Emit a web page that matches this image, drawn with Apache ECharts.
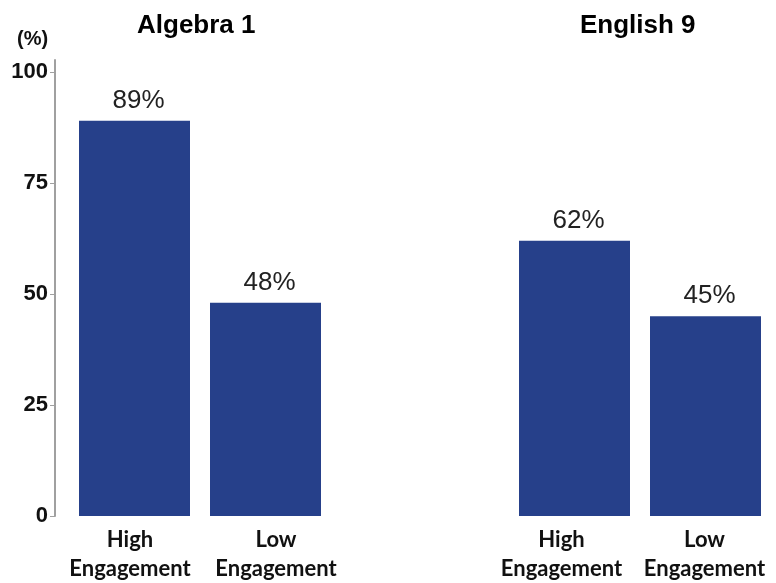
<!DOCTYPE html>
<html><head><meta charset="utf-8">
<script src="https://cdn.jsdelivr.net/npm/echarts@6/dist/echarts.min.js"></script>
<style>html,body{margin:0;padding:0;background:#fff}#c{width:776px;height:583px}</style>
</head><body><div id="c"></div>
<script>
const panels = ['Algebra 1', 'English 9'];
const categories = ['High\nEngagement', 'Low\nEngagement'];
const algebraValues = [89, 48];
const englishValues = [62, 45];
const yTicks = [0, 25, 50, 75, 100];
const yUnit = '(%)';

const BAR = '#26408a';
const AXIS = '#a0a0a0';
const gridTop = 60, gridBottom = 67;
const yMax = 102.7;

function hiddenX(gi) {
  return { type: 'category', gridIndex: gi, data: categories, show: false };
}
function labelX(gi) {
  return {
    type: 'category', gridIndex: gi, data: categories,
    axisLine: { show: false }, axisTick: { show: false },
    axisLabel: { margin: 11, color: '#111', fontFamily: 'Lato', fontWeight: 'bold', fontSize: 22, lineHeight: 29, interval: 0 }
  };
}
function hiddenY(gi) {
  return { type: 'value', gridIndex: gi, min: 0, max: yMax, show: false, splitLine: { show: false } };
}
function barSeries(xi, data) {
  return {
    type: 'bar', xAxisIndex: xi, yAxisIndex: xi, data: data, barWidth: 111,
    itemStyle: { color: BAR },
    label: { show: true, position: 'top', distance: 7, offset: [4, 0], formatter: '{c}%',
      color: '#222', fontFamily: 'Liberation Sans', fontSize: 26 }
  };
}

const chart = echarts.init(document.getElementById('c'), null, { renderer: 'canvas' });
const titleStyle = { fontFamily: 'Liberation Sans', fontWeight: 'bold', fontSize: 26, color: '#000' };
chart.setOption({
  animation: false,
  backgroundColor: '#fff',
  title: [
    { text: panels[0], left: 137, top: 13, padding: 0, textStyle: titleStyle },
    { text: panels[1], left: 580, top: 13, padding: 0, textStyle: titleStyle },
    { text: yUnit, left: 17, top: 29, padding: 0, textStyle: { fontFamily: 'Liberation Sans', fontWeight: 'bold', fontSize: 20, color: '#111' } }
  ],
  grid: [
    { left: 69, width: 262, top: gridTop, bottom: gridBottom },
    { left: 509, width: 262, top: gridTop, bottom: gridBottom },
    { left: 57, width: 292, top: gridTop, bottom: gridBottom },
    { left: 490, width: 298, top: gridTop, bottom: gridBottom }
  ],
  xAxis: [hiddenX(0), hiddenX(1), labelX(2), labelX(3)],
  yAxis: [
    {
      type: 'value', gridIndex: 0, min: 0, max: yMax, offset: 14,
      splitLine: { show: false },
      axisLine: { show: true, lineStyle: { color: AXIS, width: 2 } },
      axisTick: { show: true, length: 5, lineStyle: { color: AXIS, width: 1 }, customValues: yTicks },
      axisLabel: { margin: 7, color: '#111', fontFamily: 'Liberation Sans', fontWeight: 'bold', fontSize: 22, customValues: yTicks }
    },
    hiddenY(1), hiddenY(2), hiddenY(3)
  ],
  series: [barSeries(0, algebraValues), barSeries(1, englishValues)]
});
</script></body></html>
